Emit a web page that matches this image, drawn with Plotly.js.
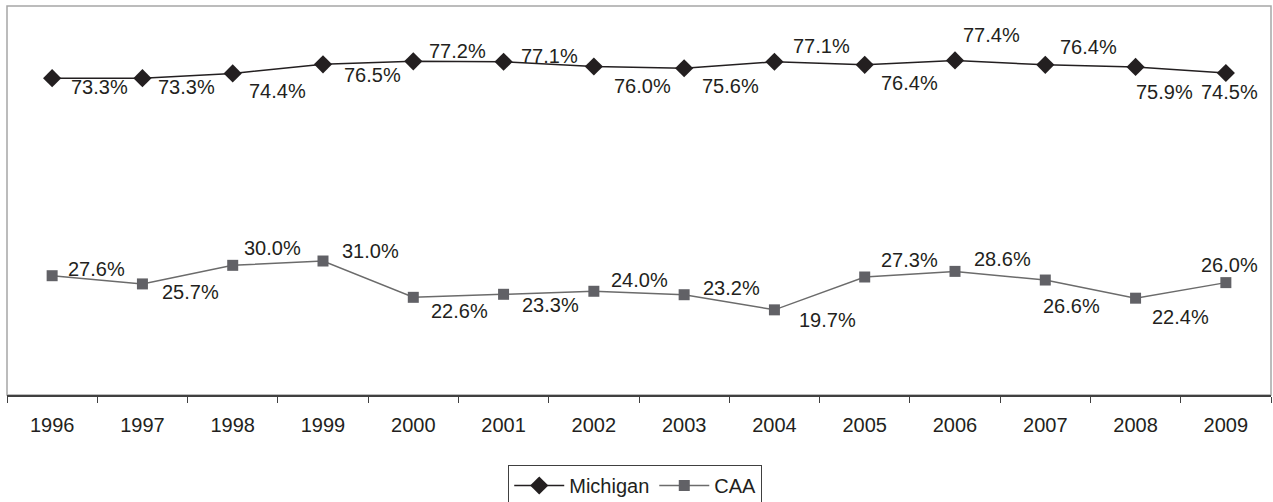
<!DOCTYPE html>
<html>
<head>
<meta charset="utf-8">
<script src="https://cdn.plot.ly/plotly-3.0.1.min.js"></script>
<style>
html,body{margin:0;padding:0;background:#fff;}
#chart{width:1273px;height:502px;}
</style>
</head>
<body>
<div id="chart"></div>
<script>
// ---- data ----
const years = ['1996','1997','1998','1999','2000','2001','2002','2003','2004','2005','2006','2007','2008','2009'];
const michigan = [73.3, 73.3, 74.4, 76.5, 77.2, 77.1, 76.0, 75.6, 77.1, 76.4, 77.4, 76.4, 75.9, 74.5];
const caa = [27.6, 25.7, 30.0, 31.0, 22.6, 23.3, 24.0, 23.2, 19.7, 27.3, 28.6, 26.6, 22.4, 26.0];

// ---- label placement (pixel offsets from each point: right, down) ----
const michOffX = [17, 14, 14, 19, 14, 15, 18, 16, 17, 14, 6, 13, -2, -27];
const michOffY = [9, 9, 18, 11, -10, -6, 19, 18, -16, 18, -25, -18, 25, 19];
const caaOffX = [14, 18, 9, 17, 16, 16, 15, 17, 23, 14, 17, -4, 14, -27];
const caaOffY = [-7, 8, -17, -10, 14, 11, -11, -7, 10, -17, -12, 26, 19, -18];

const font = 'Liberation Sans, Arial, sans-serif';
const textColor = '#231f20';

const traces = [
  {
    x: years, y: michigan, name: 'Michigan', type: 'scatter', mode: 'lines+markers',
    line: {color: '#231f20', width: 1.5},
    marker: {symbol: 'diamond', size: 14, color: '#231f20'}
  },
  {
    x: years, y: caa, name: 'CAA', type: 'scatter', mode: 'lines+markers',
    line: {color: '#6b6b6b', width: 1.5},
    marker: {symbol: 'square', size: 11, color: '#616166'}
  }
];

const annotations = [];
function addLabels(vals, ox, oy) {
  vals.forEach((v, i) => {
    annotations.push({
      x: i, y: v, xref: 'x', yref: 'y',
      text: v.toFixed(1) + '%', showarrow: false,
      xanchor: 'left', yanchor: 'middle',
      xshift: ox[i], yshift: -oy[i],
      font: {family: font, size: 20, color: textColor}
    });
  });
}
addLabels(michigan, michOffX, michOffY);
addLabels(caa, caaOffX, caaOffY);

const layout = {
  width: 1273, height: 502,
  margin: {l: 7, r: 2, t: 6, b: 107, autoexpand: false},
  paper_bgcolor: '#ffffff', plot_bgcolor: '#ffffff',
  font: {family: font, size: 20, color: textColor},
  showlegend: true,
  legend: {
    orientation: 'h', xref: 'container', yref: 'container',
    x: 0.499, xanchor: 'center', y: 0.0737, yanchor: 'top',
    bordercolor: '#404040', borderwidth: 1, bgcolor: '#ffffff',
    font: {family: font, size: 20, color: textColor},
    itemwidth: 50, tracegroupgap: 0
  },
  xaxis: {
    type: 'category', range: [-0.5, 13.5],
    showgrid: false, zeroline: false, automargin: false,
    showline: true, linecolor: '#404040', linewidth: 1.5,
    ticks: 'outside', tickson: 'boundaries', ticklen: 6, tickcolor: '#404040', tickwidth: 1,
    ticklabelstandoff: 11,
    tickfont: {family: font, size: 20, color: textColor},
    fixedrange: true
  },
  yaxis: {
    range: [0, 90], showgrid: false, zeroline: false, showticklabels: false,
    showline: false, ticks: '', fixedrange: true, automargin: false
  },
  shapes: [{
    type: 'rect', xref: 'paper', yref: 'paper', x0: 0, x1: 1, y0: 0, y1: 1,
    line: {color: '#a6a6a6', width: 1.5}, layer: 'below'
  }],
  annotations: annotations
};

Plotly.newPlot('chart', traces, layout, {displayModeBar: false, staticPlot: true});
</script>
</body>
</html>
